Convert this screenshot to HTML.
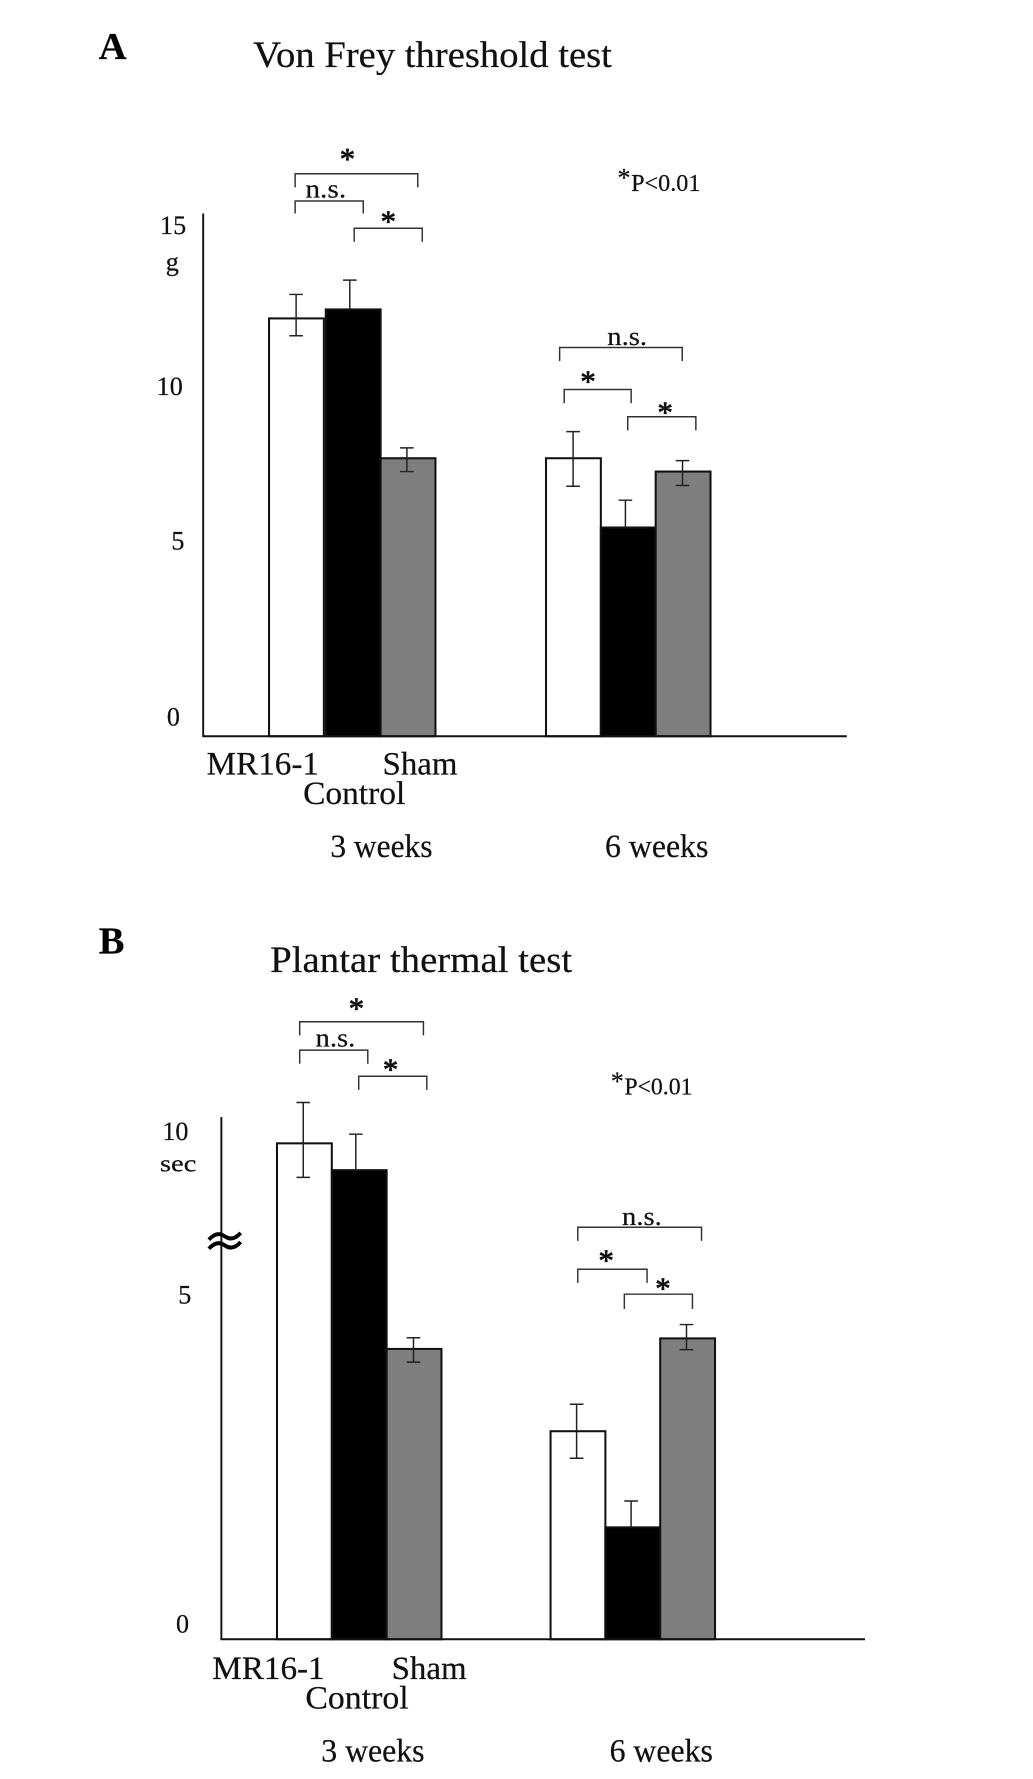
<!DOCTYPE html>
<html lang="en">
<head>
<meta charset="utf-8">
<title>Von Frey threshold and plantar thermal tests</title>
<style>
html,body{margin:0;padding:0;background:#fff;}
svg{display:block;}
text{font-family:"Liberation Serif",serif;fill:#111;stroke:#111;stroke-width:.2;}
.star{stroke-width:.7;}
.br{fill:none;stroke:#333;stroke-width:1.3;}
</style>
</head>
<body>
<svg id="fig" xmlns="http://www.w3.org/2000/svg" width="1033" height="1779" viewBox="0 0 910 1567">
<rect width="910" height="1567" fill="#fff"/>

<g id="panelA">
<text x="87" y="52" font-size="34" font-weight="bold" style="fill:#000">A</text>
<text x="223" y="59" font-size="33" textLength="316" lengthAdjust="spacingAndGlyphs">Von Frey threshold test</text>
<path class="br" d="M260 165V153H368V165"/>
<path class="br" d="M260 188V177H320V188"/>
<path class="br" d="M312 213V201H372V213"/>
<path class="br" d="M493 318V306H601V318"/>
<path class="br" d="M497 355V343H556V355"/>
<path class="br" d="M553 379V367H613V379"/>
<text class="star" x="306" y="149" font-size="27" text-anchor="middle">*</text>
<text class="star" x="342" y="204" font-size="27" text-anchor="middle">*</text>
<text class="star" x="518" y="345" font-size="27" text-anchor="middle">*</text>
<text class="star" x="586" y="372" font-size="27" text-anchor="middle">*</text>
<text x="269" y="174" font-size="23" textLength="36" lengthAdjust="spacingAndGlyphs">n.s.</text>
<text x="535" y="304" font-size="23" textLength="35" lengthAdjust="spacingAndGlyphs">n.s.</text>
<text x="544" y="164" font-size="23">*</text>
<text x="556" y="168" font-size="21" textLength="61" lengthAdjust="spacingAndGlyphs">P&lt;0.01</text>
<text x="141" y="206" font-size="23">15</text>
<text x="146" y="238" font-size="23">g</text>
<text x="138" y="348" font-size="23">10</text>
<text x="151" y="484" font-size="23">5</text>
<text x="147" y="639" font-size="23">0</text>
<text x="182" y="682" font-size="29" textLength="99" lengthAdjust="spacingAndGlyphs">MR16-1</text>
<text x="337" y="682" font-size="29" textLength="66" lengthAdjust="spacingAndGlyphs">Sham</text>
<text x="267" y="708" font-size="29" textLength="90" lengthAdjust="spacingAndGlyphs">Control</text>
<text x="291" y="755" font-size="29" textLength="90" lengthAdjust="spacingAndGlyphs">3 weeks</text>
<text x="533" y="755" font-size="29" textLength="91" lengthAdjust="spacingAndGlyphs">6 weeks</text>
<g id="marksA" transform="translate(0 -0.5)"></g>
<path d="M179 188V648.5H746" fill="none" stroke="#111" stroke-width="1.7"/>
</g>

<g id="panelB">
<text x="87" y="840" font-size="34" font-weight="bold" style="fill:#000">B</text>
<text x="238" y="856" font-size="33" textLength="266" lengthAdjust="spacingAndGlyphs">Plantar thermal test</text>
<path class="br" d="M264 912V900H373V912"/>
<path class="br" d="M264 937V925H324V937"/>
<path class="br" d="M316 960V948H376V960"/>
<path class="br" d="M509 1093V1081H618V1093"/>
<path class="br" d="M509 1130V1118H570V1130"/>
<path class="br" d="M550 1153V1140H610V1153"/>
<text class="star" x="314" y="897" font-size="27" text-anchor="middle">*</text>
<text class="star" x="344" y="951" font-size="27" text-anchor="middle">*</text>
<text class="star" x="534" y="1119" font-size="27" text-anchor="middle">*</text>
<text class="star" x="584" y="1144" font-size="27" text-anchor="middle">*</text>
<text x="278" y="922" font-size="23" textLength="35" lengthAdjust="spacingAndGlyphs">n.s.</text>
<text x="548" y="1079" font-size="23" textLength="35" lengthAdjust="spacingAndGlyphs">n.s.</text>
<text x="538" y="960" font-size="23">*</text>
<text x="550" y="964" font-size="21" textLength="60" lengthAdjust="spacingAndGlyphs">P&lt;0.01</text>
<text x="143" y="1004" font-size="23">10</text>
<text x="141" y="1032" font-size="21" textLength="32" lengthAdjust="spacingAndGlyphs">sec</text>
<text x="157" y="1148" font-size="23">5</text>
<text x="155" y="1438" font-size="23">0</text>
<text x="187" y="1479" font-size="29" textLength="99" lengthAdjust="spacingAndGlyphs">MR16-1</text>
<text x="345" y="1479" font-size="29" textLength="66" lengthAdjust="spacingAndGlyphs">Sham</text>
<text x="269" y="1505" font-size="29" textLength="91" lengthAdjust="spacingAndGlyphs">Control</text>
<text x="283" y="1551.5" font-size="29" textLength="91" lengthAdjust="spacingAndGlyphs">3 weeks</text>
<text x="537" y="1551.5" font-size="29" textLength="91" lengthAdjust="spacingAndGlyphs">6 weeks</text>
<g id="marksB" transform="translate(0 -1)"></g>
<path d="M195 984V1444H762" fill="none" stroke="#111" stroke-width="1.7"/>
<path d="M184 1092q7 -8 14 -3t14 -3M184 1100q7 -8 14 -3t14 -3" fill="none" stroke="#000" stroke-width="3.4"/>
</g>
</svg>
<script>
// Data (index order: 3 weeks then 6 weeks; MR16-1, Control, Sham)
var treatments = ['MR16-1', 'Control', 'Sham'];
var weeks = ['3 weeks', '6 weeks'];
var fills = ['#ffffff', '#000000', '#7f7f7f'];

var vonFreyMeans = [[12.55, 12.82, 8.35], [8.35, 6.27, 7.95]];
var vonFreyErrUp = [[0.72, 0.88, 0.31], [0.80, 0.82, 0.33]];
var vonFreyErrDown = [[0.52, 0, 0.40], [0.84, 0, 0.42]];

var plantarMeans = [[10.1, 9.28, 4.41], [3.16, 1.7, 4.57]];
var plantarErrUp = [[1.25, 1.1, 0.17], [0.41, 0.4, 0.21]];
var plantarErrDown = [[1.04, 0, 0.2], [0.41, 0, 0.17]];

var NS = 'http://www.w3.org/2000/svg';

function yVonFrey(v) { return 649 - 29.33 * v; }
function yPlantar(v) {
  if (v <= 5) { return 1445 - 58 * v; }
  return 1155 - 28.8 * (v - 5);
}
function make(tag, attrs, parent) {
  var el = document.createElementNS(NS, tag);
  for (var k in attrs) { el.setAttribute(k, attrs[k]); }
  parent.appendChild(el);
  return el;
}
function barLeft(groupStart, g, t, w, hasGap) {
  return groupStart + t * w + (hasGap && g === 0 && t > 0 ? 1.7 : 0);
}
function drawPanel(parent, means, up, down, yFn, base, groupStarts, errOffsets, hasGap) {
  var w = 48.3;
  for (var g = 0; g < means.length; g++) {
    for (var t = 0; t < means[g].length; t++) {
      var x = barLeft(groupStarts[g], g, t, w, hasGap);
      var v = means[g][t];
      var bar = make('rect', {x: x, y: yFn(v), width: w, height: base - yFn(v), fill: fills[t], stroke: '#111', 'stroke-width': 1.8}, parent);
      
      
    }
  }
  for (g = 0; g < means.length; g++) {
    for (t = 0; t < means[g].length; t++) {
      var cx = barLeft(groupStarts[g], g, t, w, hasGap) + w / 2 + errOffsets[g][t];
      var m = means[g][t];
      var yTop = yFn(m + up[g][t]);
      var yBot = yFn(m - down[g][t]);
      var capBot = down[g][t] > 0
        ? 'M' + (cx - 6) + ' ' + yBot + 'H' + (cx + 6)
        : '';
      var err = make('path', {d: 'M' + (cx - 6) + ' ' + yTop + 'H' + (cx + 6) + 'M' + cx + ' ' + yTop + 'V' + yBot + capBot, fill: 'none', stroke: '#222', 'stroke-width': 1.3}, parent);
      
      
    }
  }
}
drawPanel(document.getElementById('marksA'), vonFreyMeans, vonFreyErrUp, vonFreyErrDown, yVonFrey, 649, [237, 481], [[-0.3, -3, -1], [-0.3, -2.5, -0.5]], true);
drawPanel(document.getElementById('marksB'), plantarMeans, plantarErrUp, plantarErrDown, yPlantar, 1445, [244, 485], [[-1, -3, -0.5], [-1.2, -1.5, -1]], false);
</script>
</body>
</html>
